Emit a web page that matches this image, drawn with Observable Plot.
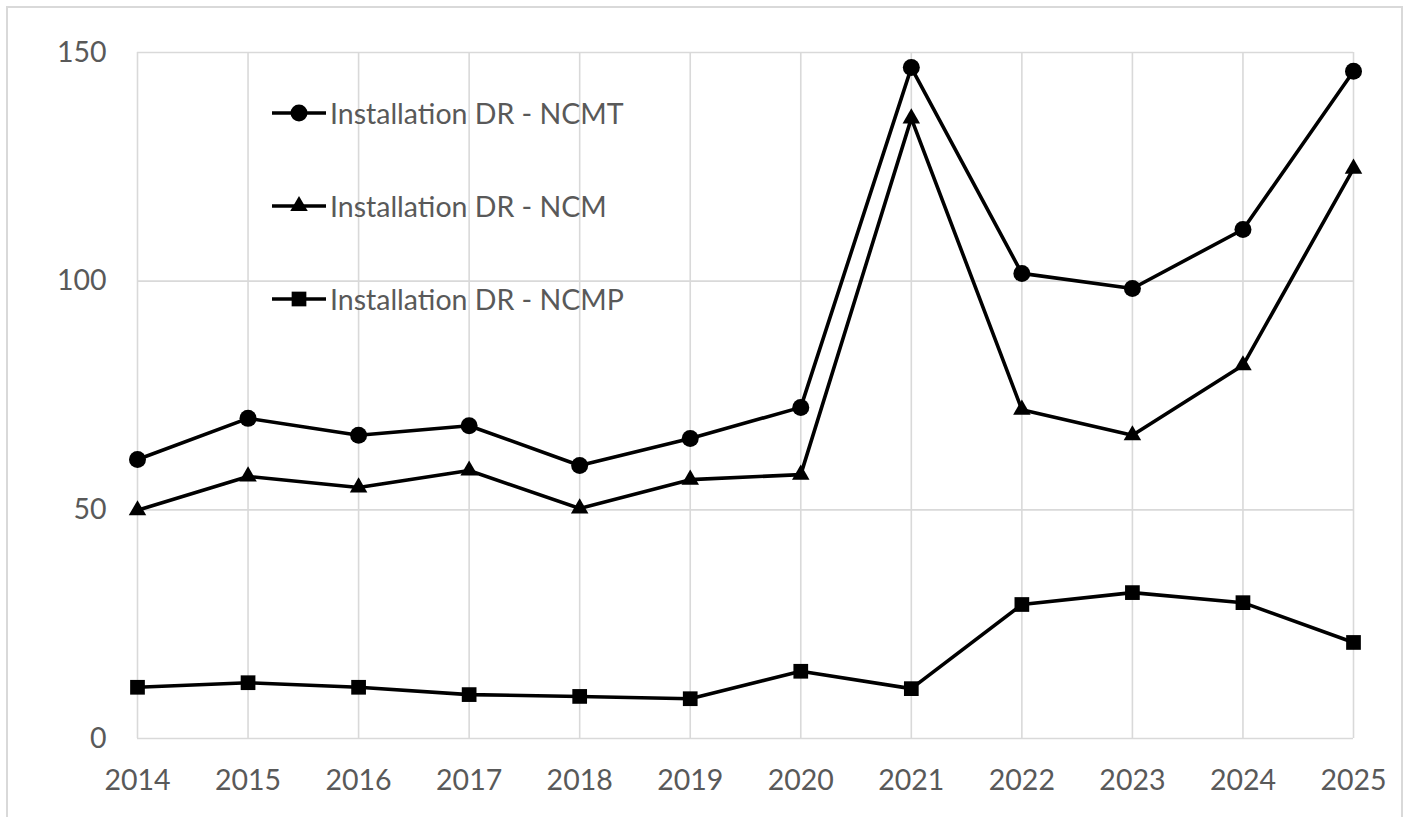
<!DOCTYPE html>
<html>
<head>
<meta charset="utf-8">
<script src="https://cdn.jsdelivr.net/npm/d3@7"></script>
<script src="https://cdn.jsdelivr.net/npm/@observablehq/plot@0.6"></script>
<style>
  html, body { margin: 0; padding: 0; background: #fff; overflow: hidden; }
  #wrap { position: relative; width: 1406px; height: 817px; }
  #border { position: absolute; left: 6px; top: 6px; width: 1397px; height: 830px; border: 2px solid #d9d9d9; box-sizing: border-box; pointer-events: none; }
  #chart { position: absolute; left: 0; top: 0; }
  #legend { position: absolute; left: 270px; top: 94px; font-family: Lato, "Open Sans", sans-serif; font-size: 28.5px; color: #595959; }
  .item { display: flex; align-items: center; height: 38px; margin-bottom: 55px; }
  .item svg { margin-right: 2px; }
</style>
</head>
<body>
<div id="wrap">
  <div id="border"></div>
  <div id="chart"></div>
  <div id="legend"></div>
</div>
<script>
const years = [2014, 2015, 2016, 2017, 2018, 2019, 2020, 2021, 2022, 2023, 2024, 2025];
const ncmt = [61.0, 70.0, 66.3, 68.4, 59.7, 65.6, 72.4, 146.7, 101.7, 98.4, 111.3, 145.9];
const ncm  = [49.9, 57.3, 54.9, 58.6, 50.3, 56.6, 57.7, 135.6, 71.9, 66.3, 81.6, 124.6];
const ncmp = [11.2, 12.2, 11.2, 9.6, 9.2, 8.7, 14.7, 10.9, 29.3, 31.9, 29.7, 21.0];
const seriesNames = ["Installation DR - NCMT", "Installation DR - NCM", "Installation DR - NCMP"];
const seriesValues = [ncmt, ncm, ncmp];
const symbols = ["circle", "triangle", "square"];
const symbolR = [8.5, 6.5, 8.3];
const yTicks = [0, 50, 100, 150];

const seriesRows = seriesNames.map((name, i) => years.map((yr, j) => ({series: name, year: yr, value: seriesValues[i][j]})));

const grid = "#d9d9d9";
const fs = 28.5;
const plot = Plot.plot({
  width: 1406,
  height: 817,
  marginLeft: 137,
  marginRight: 53,
  marginTop: 52,
  marginBottom: 79,
  style: {fontFamily: "Lato, 'Open Sans', sans-serif", fontSize: fs + "px", color: "#595959", background: "transparent"},
  x: {domain: [2014, 2025], label: null},
  y: {domain: [0, 150], label: null},
  marks: [
    Plot.gridX(years, {stroke: grid, strokeOpacity: 1, strokeWidth: 1.6}),
    Plot.gridY(yTicks, {stroke: grid, strokeOpacity: 1, strokeWidth: 1.6}),
    Plot.axisX({ticks: years, tickFormat: d => String(d), tickSize: 0, tickPadding: 31, fill: "#595959", fontSize: fs, label: null}),
    Plot.axisY({ticks: yTicks, tickSize: 0, tickPadding: 31, fill: "#595959", fontSize: fs, label: null}),
    ...seriesRows.map(data => Plot.line(data, {x: "year", y: "value", stroke: "#000", strokeWidth: 3.6})),
    ...seriesRows.map((data, i) => Plot.dot(data, {x: "year", y: "value", symbol: symbols[i], r: symbolR[i], fill: "#000", stroke: "none"}))
  ]
});
document.getElementById("chart").appendChild(plot);

// Legend (HTML overlay)
const legend = document.getElementById("legend");
seriesNames.forEach((name, i) => {
  const item = document.createElement("div");
  item.className = "item";
  const s = d3.create("svg").attr("width", 58).attr("height", 38);
  s.append("line").attr("x1", 2).attr("x2", 56).attr("y1", 19).attr("y2", 19).attr("stroke", "#000").attr("stroke-width", 3.6);
  const sym = {circle: d3.symbolCircle, triangle: d3.symbolTriangle, square: d3.symbolSquare}[symbols[i]];
  s.append("path").attr("transform", "translate(29,19)").attr("d", d3.symbol(sym, Math.PI * symbolR[i] * symbolR[i])()).attr("fill", "#000");
  item.appendChild(s.node());
  const t = document.createElement("span");
  t.textContent = name;
  item.appendChild(t);
  legend.appendChild(item);
});
</script>
</body>
</html>
